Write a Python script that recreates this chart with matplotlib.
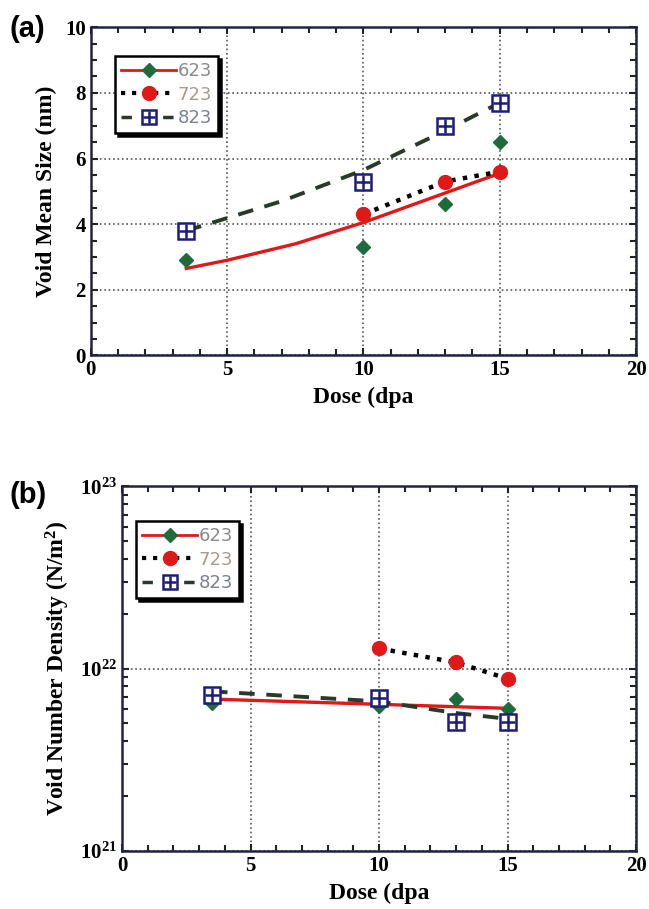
import numpy as np
import matplotlib
matplotlib.use('Agg')
import matplotlib.pyplot as plt
from matplotlib.lines import Line2D
from matplotlib.legend_handler import HandlerTuple
from matplotlib.ticker import MultipleLocator, LogLocator, FuncFormatter, NullFormatter

plt.rcParams['font.family'] = 'Liberation Serif'
plt.rcParams['font.weight'] = 'bold'
plt.rcParams['axes.labelweight'] = 'bold'
plt.rcParams['mathtext.fontset'] = 'custom'
plt.rcParams['mathtext.rm'] = 'Liberation Serif:bold'
plt.rcParams['mathtext.it'] = 'Liberation Serif:bold'
plt.rcParams['mathtext.bf'] = 'Liberation Serif:bold'

# (a) void mean size (nm)
dose_623 = [3.5, 10, 13, 15]
size_623 = [2.9, 3.3, 4.6, 6.5]
fit_dose_623 = [3.5, 5, 7.5, 10, 12.5, 15]
fit_size_623 = [2.65, 2.9, 3.4, 4.05, 4.8, 5.55]

dose_723 = [10, 13, 15]
size_723 = [4.3, 5.3, 5.6]

dose_823 = [3.5, 10, 13, 15]
size_823 = [3.8, 5.3, 7.0, 7.7]
fit_dose_823 = [3.5, 7, 10, 13, 15]
fit_size_823 = [3.8, 4.7, 5.65, 6.85, 7.7]

# (b) void number density (N/m^2)
dens_623 = [6.5e21, 6.2e21, 6.8e21, 6.0e21]
fit_dose_623b = [3.5, 15]
fit_dens_623b = [6.8e21, 6.05e21]
dens_723 = [1.29e22, 1.08e22, 0.88e22]
dens_823 = [7.2e21, 6.9e21, 5.1e21, 5.1e21]
fit_dose_823b = [3.5, 10, 13, 15]
fit_dens_823b = [7.5e21, 6.6e21, 5.7e21, 5.3e21]

labels = ['623', '723', '823']
label_colors = ['#8a8a8a', '#a89a90', '#7a8090']

RED = '#e01818'
GREEN = '#1e6b3c'
NAVY = '#1c1c7a'
DASH = '#2a3a2a'


def style_axes(ax):
    ax.tick_params(which='both', direction='in', top=True, right=True,
                   labelsize=15, width=1.5, color='#222222')
    ax.tick_params(which='major', length=5)
    ax.tick_params(which='minor', length=4)
    for s in ax.spines.values():
        s.set_linewidth(1.8)
        s.set_color('#222244')
    ax.set_xlim(0, 20)
    ax.xaxis.set_major_locator(MultipleLocator(5))
    ax.xaxis.set_minor_locator(MultipleLocator(1))
    ax.set_xlabel('Dose (dpa', fontsize=17, labelpad=5)


def draw_series(ax, d623, y623, fx623, fy623, d723, y723, d823, y823, fx823, fy823):
    ax.plot(fx623, fy623, '-', color=RED, lw=2.4, zorder=3)
    ax.plot(d723, y723, ':', color='black', lw=3.2, zorder=3)
    ax.plot(fx823, fy823, '--', color=DASH, lw=2.8, dashes=(4, 3), zorder=3)
    ax.plot(d623, y623, 'D', color=GREEN, ms=7, zorder=4)
    ax.plot(d723, y723, 'o', color=RED, ms=10, zorder=4)
    ax.plot(d823, y823, 's', mfc='white', mec=NAVY, mew=1.8, ms=11, zorder=5)
    ax.plot(d823, y823, '+', color=NAVY, mew=1.8, ms=10, zorder=6)


def add_legend(ax, anchor):
    h623 = Line2D([], [], color=RED, lw=2, marker='D', mfc=GREEN, mec=GREEN, ms=7)
    h723 = Line2D([], [], color='black', ls=':', lw=3, marker='o', mfc=RED, mec=RED, ms=10)
    h823a = Line2D([], [], color=DASH, ls='--', lw=2.5, dashes=(3, 3), marker='s',
                   mfc='white', mec=NAVY, mew=1.8, ms=10)
    h823b = Line2D([], [], ls='none', marker='+', color=NAVY, mew=1.8, ms=9)
    leg = ax.legend([h623, h723, (h823a, h823b)], labels,
                    handler_map={tuple: HandlerTuple(ndivide=1, pad=0)},
                    loc='upper left', bbox_to_anchor=anchor,
                    prop={'family': 'DejaVu Sans', 'size': 13, 'weight': 'normal'},
                    handlelength=3.0, handletextpad=0.1, labelspacing=0.3,
                    borderpad=0.35, fancybox=False, framealpha=1,
                    edgecolor='black', shadow={'color': 'black', 'alpha': 1})
    leg.get_frame().set_linewidth(1.8)
    for t, c in zip(leg.get_texts(), label_colors):
        t.set_color(c)


fig = plt.figure(figsize=(6.49, 9.09), dpi=100)

# panel (a)
ax1 = fig.add_axes([0.140, 0.609, 0.840, 0.361])
style_axes(ax1)
ax1.set_ylim(0, 10)
ax1.yaxis.set_major_locator(MultipleLocator(2))
ax1.yaxis.set_minor_locator(MultipleLocator(0.5))
ax1.grid(True, which='major', ls=':', color='#555555', lw=1.2)
ax1.set_axisbelow(True)
draw_series(ax1, dose_623, size_623, fit_dose_623, fit_size_623,
            dose_723, size_723, dose_823, size_823, fit_dose_823, fit_size_823)
ax1.set_ylabel('Void Mean Size (nm)', fontsize=17, labelpad=6)
add_legend(ax1, (0.028, 0.94))
fig.text(0.015, 0.968, '(a)', fontsize=21, fontweight='bold',
         family='Liberation Sans', va='center')

# panel (b)
ax2 = fig.add_axes([0.188, 0.064, 0.792, 0.401])
style_axes(ax2)
ax2.set_yscale('log')
ax2.set_ylim(1e21, 1e23)
ax2.yaxis.set_major_locator(LogLocator(base=10))
ax2.yaxis.set_minor_locator(LogLocator(base=10, subs=np.arange(2, 10)))
ax2.yaxis.set_minor_formatter(NullFormatter())
ax2.yaxis.set_major_formatter(FuncFormatter(lambda v, p: r'$10^{%d}$' % round(np.log10(v))))
ax2.grid(True, which='major', ls=':', color='#555555', lw=1.2)
ax2.set_axisbelow(True)
draw_series(ax2, dose_623, dens_623, fit_dose_623b, fit_dens_623b,
            dose_723, dens_723, dose_823, dens_823, fit_dose_823b, fit_dens_823b)
ax2.set_ylabel('Void Number Density (N/m$^2$)', fontsize=17, labelpad=6)
add_legend(ax2, (0.01, 0.93))
fig.text(0.015, 0.455, '(b)', fontsize=21, fontweight='bold',
         family='Liberation Sans', va='center')

fig.savefig('out.png', dpi=100)
